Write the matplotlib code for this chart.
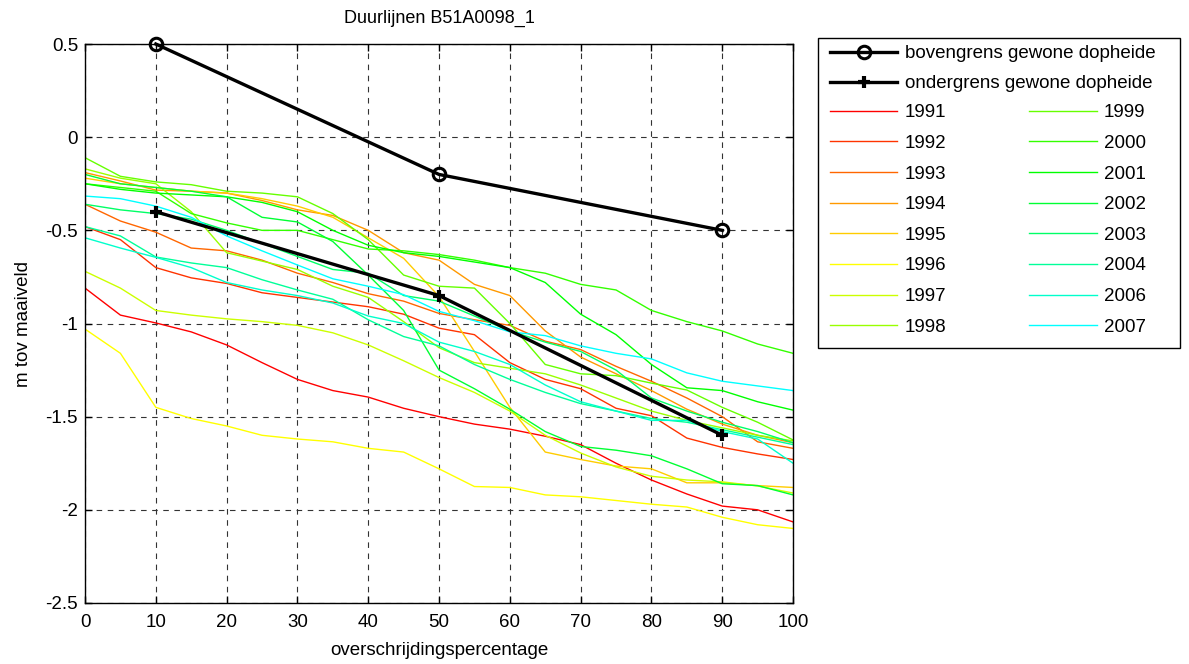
import numpy as np
import matplotlib
matplotlib.use("Agg")
import matplotlib.pyplot as plt
import colorsys
from matplotlib.patches import Rectangle

plt.rcParams['font.family'] = ['Liberation Sans', 'DejaVu Sans']
plt.rcParams['axes.unicode_minus'] = False

# overschrijdingspercentage (x) en grondwaterstand (m tov maaiveld)
pct = np.arange(0, 101, 5)

grens_x = [10, 50, 90]
bovengrens = [0.5, -0.2, -0.5]
ondergrens = [-0.4, -0.85, -1.6]

jaren = ['1991', '1992', '1993', '1994', '1995', '1996', '1997', '1998',
         '1999', '2000', '2001', '2002', '2003', '2004', '2006', '2007']

y1991 = [-0.81, -0.955, -0.997, -1.045, -1.115, -1.21, -1.30, -1.36, -1.395, -1.455, -1.50,
         -1.54, -1.567, -1.605, -1.65, -1.75, -1.84, -1.915, -1.98, -2.00, -2.065]
y1992 = [-0.48, -0.55, -0.70, -0.755, -0.785, -0.835, -0.86, -0.885, -0.91, -0.95, -1.025,
         -1.06, -1.21, -1.30, -1.35, -1.455, -1.495, -1.615, -1.665, -1.70, -1.73]
y1993 = [-0.36, -0.45, -0.51, -0.595, -0.61, -0.66, -0.73, -0.78, -0.84, -0.88, -0.946,
         -0.98, -1.01, -1.095, -1.14, -1.23, -1.31, -1.40, -1.50, -1.635, -1.67]
y1994 = [-0.19, -0.235, -0.284, -0.29, -0.30, -0.34, -0.39, -0.42, -0.50, -0.62, -0.66,
         -0.79, -0.85, -1.04, -1.18, -1.27, -1.36, -1.46, -1.54, -1.60, -1.64]
y1995 = [-0.22, -0.25, -0.27, -0.29, -0.30, -0.33, -0.37, -0.43, -0.54, -0.65, -0.855,
         -1.15, -1.45, -1.69, -1.73, -1.765, -1.78, -1.855, -1.855, -1.87, -1.88]
y1996 = [-1.03, -1.16, -1.45, -1.51, -1.55, -1.60, -1.62, -1.635, -1.67, -1.69, -1.78,
         -1.875, -1.88, -1.92, -1.93, -1.95, -1.97, -1.985, -2.04, -2.08, -2.10]
y1997 = [-0.72, -0.81, -0.93, -0.955, -0.975, -0.99, -1.01, -1.05, -1.115, -1.20, -1.29,
         -1.37, -1.47, -1.60, -1.695, -1.77, -1.82, -1.84, -1.85, -1.872, -1.91]
y1998 = [-0.17, -0.22, -0.25, -0.40, -0.62, -0.665, -0.71, -0.80, -0.86, -0.99, -1.13,
         -1.21, -1.24, -1.27, -1.33, -1.40, -1.47, -1.52, -1.56, -1.60, -1.63]
y1999 = [-0.11, -0.21, -0.24, -0.255, -0.29, -0.30, -0.32, -0.41, -0.55, -0.74, -0.80,
         -0.81, -1.00, -1.22, -1.27, -1.28, -1.32, -1.357, -1.45, -1.53, -1.625]
y2000 = [-0.25, -0.27, -0.29, -0.41, -0.46, -0.50, -0.50, -0.55, -0.60, -0.61, -0.63,
         -0.66, -0.70, -0.73, -0.79, -0.82, -0.93, -0.99, -1.04, -1.11, -1.16]
y2001 = [-0.25, -0.28, -0.30, -0.31, -0.32, -0.35, -0.40, -0.50, -0.58, -0.62, -0.64,
         -0.67, -0.70, -0.78, -0.95, -1.06, -1.22, -1.345, -1.36, -1.42, -1.465]
y2002 = [-0.20, -0.25, -0.27, -0.29, -0.32, -0.43, -0.455, -0.56, -0.74, -0.93, -1.25,
         -1.35, -1.46, -1.58, -1.66, -1.68, -1.71, -1.78, -1.86, -1.87, -1.92]
y2003 = [-0.36, -0.39, -0.41, -0.44, -0.50, -0.57, -0.64, -0.71, -0.73, -0.85, -0.88,
         -0.96, -1.04, -1.10, -1.15, -1.25, -1.40, -1.47, -1.53, -1.58, -1.64]
y2004 = [-0.48, -0.53, -0.643, -0.675, -0.70, -0.765, -0.82, -0.87, -0.98, -1.07, -1.12,
         -1.22, -1.30, -1.37, -1.43, -1.47, -1.51, -1.53, -1.57, -1.61, -1.65]
y2006 = [-0.54, -0.595, -0.645, -0.70, -0.78, -0.82, -0.85, -0.89, -0.96, -1.00, -1.10,
         -1.15, -1.22, -1.33, -1.42, -1.47, -1.52, -1.52, -1.58, -1.62, -1.75]
y2007 = [-0.316, -0.33, -0.37, -0.43, -0.53, -0.61, -0.686, -0.76, -0.80, -0.845, -0.935,
         -0.985, -1.045, -1.065, -1.12, -1.16, -1.19, -1.265, -1.31, -1.335, -1.36]

reeksen = [y1991, y1992, y1993, y1994, y1995, y1996, y1997, y1998,
           y1999, y2000, y2001, y2002, y2003, y2004, y2006, y2007]

fig = plt.figure(figsize=(11.89, 6.64), dpi=100)
ax = fig.add_axes([0.0715, 0.0919, 0.5955, 0.8418])

jaar_lijnen = []
for i, (jaar, y) in enumerate(zip(jaren, reeksen)):
    kleur = colorsys.hsv_to_rgb(i * 12 / 360.0, 1.0, 1.0)
    l, = ax.plot(pct, y, color=kleur, lw=1.0, label=jaar, zorder=2)
    jaar_lijnen.append(l)

bov, = ax.plot(grens_x, bovengrens, color='black', lw=2.4, marker='o', ms=9,
               mfc='none', mew=2.2, label='bovengrens gewone dopheide', zorder=4,
               clip_on=False)
ond, = ax.plot(grens_x, ondergrens, color='black', lw=2.4, marker='+', ms=9,
               mew=3, label='ondergrens gewone dopheide', zorder=4)

ax.set_xlim(0, 100)
ax.set_ylim(-2.5, 0.5)
ax.set_xticks(np.arange(0, 101, 10))
ax.set_yticks(np.arange(-2.5, 0.51, 0.5))
ax.set_yticklabels(['-2.5', '-2', '-1.5', '-1', '-0.5', '0', '0.5'])
ax.tick_params(direction='in', length=5, labelsize=13.5, top=True, right=True, width=1)
ax.tick_params(axis='x', pad=8)
ax.tick_params(axis='y', pad=5)
ax.grid(True, color='0.2', linestyle=(0, (5, 5)), lw=0.8)
for s in ax.spines.values():
    s.set_linewidth(1.0)

ax.set_title('Duurlijnen B51A0098_1', fontsize=13, pad=15)
ax.set_xlabel('overschrijdingspercentage', fontsize=13.5, labelpad=8)
ax.set_ylabel('m tov maaiveld', fontsize=13.5, labelpad=10)

# legenda: twee grenslijnen boven, jaren in twee kolommen eronder
leg1 = fig.legend(handles=[bov, ond], loc='upper left', bbox_to_anchor=(0.698, 0.932),
                  frameon=False, fontsize=13.5, handlelength=3.6, handletextpad=0.4,
                  labelspacing=0.68, borderpad=0, borderaxespad=0)
leg2 = fig.legend(handles=jaar_lijnen, loc='upper left', bbox_to_anchor=(0.698, 0.843),
                  ncol=2, frameon=False, fontsize=13.5, handlelength=3.6, handletextpad=0.4,
                  labelspacing=0.72, columnspacing=4.4, borderpad=0, borderaxespad=0)
fig.patches.append(Rectangle((0.688, 0.476), 0.3044, 0.467, transform=fig.transFigure,
                             fill=False, ec='black', lw=1.0))

fig.savefig('out.png', dpi=100)
